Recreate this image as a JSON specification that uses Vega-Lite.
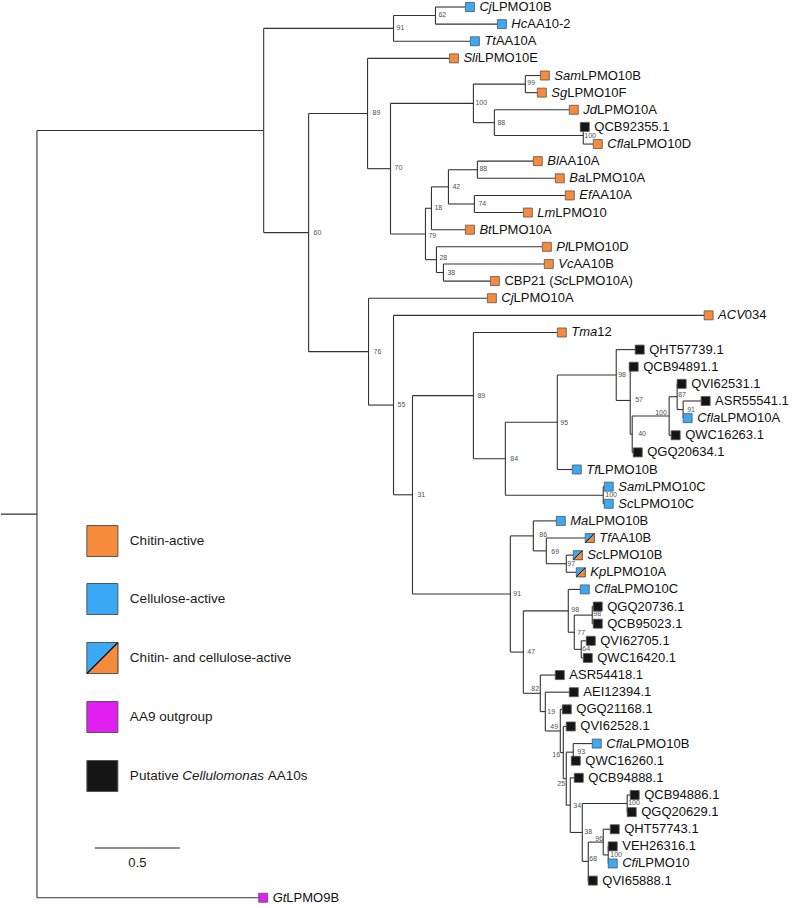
{
"$schema": "https://vega.github.io/schema/vega-lite/v6.json",
"width": 794, "height": 908, "padding": 0,
"autosize": {"type": "fit", "contains": "padding"},
"config": {"view": {"stroke": null}},
"datasets": {
"nodes": [
{"id":"base","parent":null,"x":-0.2118,"y":29.605},
{"id":"ROOT","parent":"base","x":0,"y":29.605},
{"id":"N1","parent":"ROOT","x":1.3353,"y":7.209},
{"id":"A","parent":"N1","x":2.1,"y":1.25,"bs":"91","lx":2.1176,"ly":1.226},
{"id":"B","parent":"A","x":2.3471,"y":0.5,"bs":"62","lx":2.3647,"ly":0.467},
{"id":"N60","parent":"N1","x":1.6,"y":13.169,"bs":"60","lx":1.6294,"ly":13.193},
{"id":"N89","parent":"N60","x":1.9471,"y":6.219,"bs":"89","lx":1.9765,"ly":6.188},
{"id":"N70","parent":"N89","x":2.0824,"y":9.438,"bs":"70","lx":2.1059,"ly":9.399},
{"id":"N100a","parent":"N70","x":2.5706,"y":5.625,"bs":"100","lx":2.5824,"ly":5.604},
{"id":"N99","parent":"N100a","x":2.8765,"y":4.5,"bs":"99","lx":2.8882,"ly":4.437},
{"id":"N88","parent":"N100a","x":2.6941,"y":6.75,"bs":"88","lx":2.7118,"ly":6.772},
{"id":"N100b","parent":"N88","x":3.2176,"y":7.5,"bs":"100","lx":3.2235,"ly":7.531},
{"id":"N79","parent":"N70","x":2.2882,"y":13.25,"bs":"79","lx":2.3059,"ly":13.368},
{"id":"N18","parent":"N79","x":2.3235,"y":11.75,"bs":"18","lx":2.3412,"ly":11.734},
{"id":"N42","parent":"N18","x":2.4235,"y":10.5,"bs":"42","lx":2.4471,"ly":10.508},
{"id":"N88b","parent":"N42","x":2.5941,"y":9.5,"bs":"88","lx":2.6059,"ly":9.457},
{"id":"N74","parent":"N42","x":2.5765,"y":11.5,"bs":"74","lx":2.6,"ly":11.5},
{"id":"N28","parent":"N79","x":2.3529,"y":14.75,"bs":"28","lx":2.3706,"ly":14.653},
{"id":"N38a","parent":"N28","x":2.3941,"y":15.5,"bs":"38","lx":2.4176,"ly":15.528},
{"id":"N76","parent":"N60","x":1.9529,"y":20.119,"bs":"76","lx":1.9824,"ly":20.14},
{"id":"N55","parent":"N76","x":2.1,"y":23.238,"bs":"55","lx":2.1235,"ly":23.234},
{"id":"N31","parent":"N55","x":2.2118,"y":28.476,"bs":"31","lx":2.2412,"ly":28.488},
{"id":"N89b","parent":"N31","x":2.5706,"y":22.686,"bs":"89","lx":2.5941,"ly":22.709},
{"id":"N84","parent":"N89b","x":2.7588,"y":26.371,"bs":"84","lx":2.7882,"ly":26.386},
{"id":"N95","parent":"N84","x":3.0647,"y":24.242,"bs":"95","lx":3.0824,"ly":24.285},
{"id":"N98","parent":"N95","x":3.4118,"y":21.484,"bs":"98","lx":3.4235,"ly":21.483},
{"id":"N57","parent":"N98","x":3.4941,"y":22.969,"bs":"57","lx":3.5235,"ly":22.942},
{"id":"N40","parent":"N57","x":3.5059,"y":24.938,"bs":"40","lx":3.5412,"ly":24.927},
{"id":"N100d","parent":"N40","x":3.7235,"y":23.875,"bs":"100","lx":3.6412,"ly":23.701},
{"id":"N87","parent":"N100d","x":3.7706,"y":22.75,"bs":"87","lx":3.7765,"ly":22.65},
{"id":"N91b","parent":"N87","x":3.8059,"y":23.5,"bs":"91","lx":3.8294,"ly":23.526},
{"id":"N100c","parent":"N84","x":3.3353,"y":28.5,"bs":"100","lx":3.3471,"ly":28.488},
{"id":"N91","parent":"N31","x":2.7882,"y":34.266,"bs":"91","lx":2.8059,"ly":34.268},
{"id":"N86","parent":"N91","x":2.9235,"y":30.875,"bs":"86","lx":2.9588,"ly":30.823},
{"id":"N69","parent":"N86","x":3.0,"y":31.75,"bs":"69","lx":3.0294,"ly":31.816},
{"id":"N97","parent":"N69","x":3.1176,"y":32.5,"bs":"97","lx":3.1235,"ly":32.516},
{"id":"N47","parent":"N91","x":2.8647,"y":37.658,"bs":"47","lx":2.8882,"ly":37.653},
{"id":"N98b","parent":"N47","x":3.1294,"y":35.25,"bs":"98","lx":3.1471,"ly":35.201},
{"id":"N77","parent":"N98b","x":3.1647,"y":36.5,"bs":"77","lx":3.1824,"ly":36.544},
{"id":"N98c","parent":"N77","x":3.2706,"y":35.5,"bs":"98","lx":3.2765,"ly":35.435},
{"id":"N64","parent":"N77","x":3.2059,"y":37.5,"bs":"64","lx":3.2118,"ly":37.478},
{"id":"N82","parent":"N47","x":2.9647,"y":40.065,"bs":"82","lx":2.9118,"ly":39.814},
{"id":"N19","parent":"N82","x":2.9941,"y":41.131,"bs":"19","lx":3.0059,"ly":41.156},
{"id":"N49","parent":"N19","x":3.0824,"y":42.262,"bs":"49","lx":3.0235,"ly":42.032},
{"id":"N16","parent":"N49","x":3.1,"y":43.523,"bs":"16","lx":3.0353,"ly":43.666},
{"id":"N25","parent":"N16","x":3.1176,"y":45.047,"bs":"25","lx":3.0647,"ly":45.359},
{"id":"N93","parent":"N25","x":3.1588,"y":43.5,"bs":"93","lx":3.1824,"ly":43.491},
{"id":"N34","parent":"N25","x":3.1412,"y":46.594,"bs":"34","lx":3.1588,"ly":46.643},
{"id":"N38b","parent":"N34","x":3.2118,"y":48.188,"bs":"38","lx":3.2235,"ly":48.161},
{"id":"N100e","parent":"N38b","x":3.4765,"y":46.5,"bs":"100","lx":3.4824,"ly":46.468},
{"id":"N68","parent":"N38b","x":3.2471,"y":49.875,"bs":"68","lx":3.2529,"ly":49.737},
{"id":"N96","parent":"N68","x":3.3353,"y":48.75,"bs":"96","lx":3.2882,"ly":48.57},
{"id":"N100f","parent":"N96","x":3.3647,"y":49.5,"bs":"100","lx":3.3765,"ly":49.5},
{"id":"L0","parent":"B","x":2.5235,"y":0,"cat":"cellulose","pre":"","it":"Cj","post":"LPMO10B"},
{"id":"L1","parent":"B","x":2.7118,"y":1,"cat":"cellulose","pre":"","it":"Hc","post":"AA10-2"},
{"id":"L2","parent":"A","x":2.5529,"y":2,"cat":"cellulose","pre":"","it":"Tt","post":"AA10A"},
{"id":"L3","parent":"N89","x":2.4294,"y":3,"cat":"chitin","pre":"","it":"Sli","post":"LPMO10E"},
{"id":"L4","parent":"N99","x":2.9647,"y":4,"cat":"chitin","pre":"","it":"Sam","post":"LPMO10B"},
{"id":"L5","parent":"N99","x":2.9471,"y":5,"cat":"chitin","pre":"","it":"Sg","post":"LPMO10F"},
{"id":"L6","parent":"N88","x":3.1353,"y":6,"cat":"chitin","pre":"","it":"Jd","post":"LPMO10A"},
{"id":"L7","parent":"N100b","x":3.2,"y":7,"cat":"putative","pre":"QCB92355.1","it":"","post":""},
{"id":"L8","parent":"N100b","x":3.2765,"y":8,"cat":"chitin","pre":"","it":"Cfla","post":"LPMO10D"},
{"id":"L9","parent":"N88b","x":2.9235,"y":9,"cat":"chitin","pre":"","it":"Bl","post":"AA10A"},
{"id":"L10","parent":"N88b","x":3.0529,"y":10,"cat":"chitin","pre":"","it":"Ba","post":"LPMO10A"},
{"id":"L11","parent":"N74","x":3.1118,"y":11,"cat":"chitin","pre":"","it":"Ef","post":"AA10A"},
{"id":"L12","parent":"N74","x":2.8647,"y":12,"cat":"chitin","pre":"","it":"Lm","post":"LPMO10"},
{"id":"L13","parent":"N18","x":2.5235,"y":13,"cat":"chitin","pre":"","it":"Bt","post":"LPMO10A"},
{"id":"L14","parent":"N28","x":2.9765,"y":14,"cat":"chitin","pre":"","it":"Pl","post":"LPMO10D"},
{"id":"L15","parent":"N38a","x":2.9882,"y":15,"cat":"chitin","pre":"","it":"Vc","post":"AA10B"},
{"id":"L16","parent":"N38a","x":2.6706,"y":16,"cat":"chitin","pre":"CBP21 (","it":"Sc","post":"LPMO10A)"},
{"id":"L17","parent":"N76","x":2.6529,"y":17,"cat":"chitin","pre":"","it":"Cj","post":"LPMO10A"},
{"id":"L18","parent":"N55","x":3.9294,"y":18,"cat":"chitin","pre":"","it":"ACV","post":"034"},
{"id":"L19","parent":"N89b","x":3.0647,"y":19,"cat":"chitin","pre":"","it":"Tma","post":"12"},
{"id":"L20","parent":"N98","x":3.5235,"y":20,"cat":"putative","pre":"QHT57739.1","it":"","post":""},
{"id":"L21","parent":"N57","x":3.4882,"y":21,"cat":"putative","pre":"QCB94891.1","it":"","post":""},
{"id":"L22","parent":"N87","x":3.7706,"y":22,"cat":"putative","pre":"QVI62531.1","it":"","post":""},
{"id":"L23","parent":"N91b","x":3.9118,"y":23,"cat":"putative","pre":"ASR55541.1","it":"","post":""},
{"id":"L24","parent":"N91b","x":3.8059,"y":24,"cat":"cellulose","pre":"","it":"Cfla","post":"LPMO10A"},
{"id":"L25","parent":"N100d","x":3.7353,"y":25,"cat":"putative","pre":"QWC16263.1","it":"","post":""},
{"id":"L26","parent":"N40","x":3.5118,"y":26,"cat":"putative","pre":"QGQ20634.1","it":"","post":""},
{"id":"L27","parent":"N95","x":3.1529,"y":27,"cat":"cellulose","pre":"","it":"Tf","post":"LPMO10B"},
{"id":"L28","parent":"N100c","x":3.3412,"y":28,"cat":"cellulose","pre":"","it":"Sam","post":"LPMO10C"},
{"id":"L29","parent":"N100c","x":3.3412,"y":29,"cat":"cellulose","pre":"","it":"Sc","post":"LPMO10C"},
{"id":"L30","parent":"N86","x":3.0588,"y":30,"cat":"cellulose","pre":"","it":"Ma","post":"LPMO10B"},
{"id":"L31","parent":"N69","x":3.2294,"y":31,"cat":"both","pre":"","it":"Tf","post":"AA10B"},
{"id":"L32","parent":"N97","x":3.1588,"y":32,"cat":"both","pre":"","it":"Sc","post":"LPMO10B"},
{"id":"L33","parent":"N97","x":3.1765,"y":33,"cat":"both","pre":"","it":"Kp","post":"LPMO10A"},
{"id":"L34","parent":"N98b","x":3.2,"y":34,"cat":"cellulose","pre":"","it":"Cfla","post":"LPMO10C"},
{"id":"L35","parent":"N98c","x":3.2765,"y":35,"cat":"putative","pre":"QGQ20736.1","it":"","post":""},
{"id":"L36","parent":"N98c","x":3.2765,"y":36,"cat":"putative","pre":"QCB95023.1","it":"","post":""},
{"id":"L37","parent":"N64","x":3.2353,"y":37,"cat":"putative","pre":"QVI62705.1","it":"","post":""},
{"id":"L38","parent":"N64","x":3.2176,"y":38,"cat":"putative","pre":"QWC16420.1","it":"","post":""},
{"id":"L39","parent":"N82","x":3.0529,"y":39,"cat":"putative","pre":"ASR54418.1","it":"","post":""},
{"id":"L40","parent":"N19","x":3.1353,"y":40,"cat":"putative","pre":"AEI12394.1","it":"","post":""},
{"id":"L41","parent":"N49","x":3.0941,"y":41,"cat":"putative","pre":"QGQ21168.1","it":"","post":""},
{"id":"L42","parent":"N16","x":3.1176,"y":42,"cat":"putative","pre":"QVI62528.1","it":"","post":""},
{"id":"L43","parent":"N93","x":3.2706,"y":43,"cat":"cellulose","pre":"","it":"Cfla","post":"LPMO10B"},
{"id":"L44","parent":"N93","x":3.1471,"y":44,"cat":"putative","pre":"QWC16260.1","it":"","post":""},
{"id":"L45","parent":"N34","x":3.1647,"y":45,"cat":"putative","pre":"QCB94888.1","it":"","post":""},
{"id":"L46","parent":"N100e","x":3.4941,"y":46,"cat":"putative","pre":"QCB94886.1","it":"","post":""},
{"id":"L47","parent":"N100e","x":3.4765,"y":47,"cat":"putative","pre":"QGQ20629.1","it":"","post":""},
{"id":"L48","parent":"N96","x":3.3765,"y":48,"cat":"putative","pre":"QHT57743.1","it":"","post":""},
{"id":"L49","parent":"N100f","x":3.3647,"y":49,"cat":"putative","pre":"VEH26316.1","it":"","post":""},
{"id":"L50","parent":"N100f","x":3.3647,"y":50,"cat":"cellulose","pre":"","it":"Cfi","post":"LPMO10"},
{"id":"L51","parent":"N68","x":3.2471,"y":51,"cat":"putative","pre":"QVI65888.1","it":"","post":""},
{"id":"L52","parent":"ROOT","x":1.3059,"y":52,"cat":"aa9","pre":"","it":"Gt","post":"LPMO9B"}
],
"legend": [
{"cat":"chitin","pre":"Chitin-active","it":"","post":"","x":0.3853,"y":31.174},
{"cat":"cellulose","pre":"Cellulose-active","it":"","post":"","x":0.3853,"y":34.56},
{"cat":"both","pre":"Chitin- and cellulose-active","it":"","post":"","x":0.3853,"y":38.004},
{"cat":"aa9","pre":"AA9 outgroup","it":"","post":"","x":0.3853,"y":41.449},
{"cat":"putative","pre":"Putative ","it":"Cellulomonas ","post":"AA10s","x":0.3853,"y":44.893}
],
"bar": [{"x1":0.3412,"x2":0.8412,"xm":0.5912,"y":49.095,"label":"0.5"}]
},
"layer": [
{"data":{"name":"nodes"},
 "transform":[{"filter":"datum.parent != null"},
  {"lookup":"parent","from":{"data":{"name":"nodes"},"key":"id","fields":["x"]},"as":["px"]}],
 "mark":{"type":"rule","stroke":"#333333","strokeWidth":1.1},
 "encoding":{
  "x":{"field":"px","type":"quantitative","scale":{"domain":[-0.211765,4.458824],"nice":false,"zero":false},"axis":null},
  "x2":{"field":"x"},
  "y":{"field":"y","type":"quantitative","scale":{"domain":[-0.40864,52.5978],"nice":false,"zero":false,"reverse":true},"axis":null}}},
{"data":{"name":"nodes"},
 "transform":[{"filter":"datum.parent != null"},
  {"aggregate":[{"op":"min","field":"y","as":"y1"},{"op":"max","field":"y","as":"y2"}],"groupby":["parent"]},
  {"lookup":"parent","from":{"data":{"name":"nodes"},"key":"id","fields":["x"]},"as":["nx"]}],
 "mark":{"type":"rule","stroke":"#333333","strokeWidth":1.1},
 "encoding":{
  "x":{"field":"nx","type":"quantitative","scale":{"domain":[-0.211765,4.458824],"nice":false,"zero":false},"axis":null},
  "y":{"field":"y1","type":"quantitative","scale":{"domain":[-0.40864,52.5978],"nice":false,"zero":false,"reverse":true},"axis":null},
  "y2":{"field":"y2"}}},
{"data":{"name":"nodes"},
 "transform":[{"filter":"datum.cat != null"}],
 "mark":{"type":"point","shape":"square","size":81,"filled":true,"opacity":1,"stroke":"#555555","strokeWidth":0.8,"xOffset":4.5},
 "encoding":{
  "x":{"field":"x","type":"quantitative","scale":{"domain":[-0.211765,4.458824],"nice":false,"zero":false},"axis":null},
  "y":{"field":"y","type":"quantitative","scale":{"domain":[-0.40864,52.5978],"nice":false,"zero":false,"reverse":true},"axis":null},
  "fill":{"field":"cat","type":"nominal","legend":null,"scale":{"domain":["chitin","cellulose","both","aa9","putative"],"range":["#F68B3C","#3AAAF7","#3AAAF7","#DF20F0","#151515"]}}}},
{"data":{"name":"nodes"},
 "transform":[{"filter":"datum.cat == 'both'"}],
 "mark":{"type":"point","shape":"M1,-1L1,1L-1,1Z","size":81,"filled":true,"opacity":1,"color":"#F68B3C","stroke":"#555555","strokeWidth":0.8,"xOffset":4.5},
 "encoding":{
  "x":{"field":"x","type":"quantitative","scale":{"domain":[-0.211765,4.458824],"nice":false,"zero":false},"axis":null},
  "y":{"field":"y","type":"quantitative","scale":{"domain":[-0.40864,52.5978],"nice":false,"zero":false,"reverse":true},"axis":null}}},
{"data":{"name":"nodes"},
 "transform":[{"filter":"datum.cat == 'both'"}],
 "mark":{"type":"point","shape":"M-1,1L1,-1","size":81,"filled":false,"opacity":1,"color":"#111111","strokeWidth":1,"xOffset":4.5},
 "encoding":{
  "x":{"field":"x","type":"quantitative","scale":{"domain":[-0.211765,4.458824],"nice":false,"zero":false},"axis":null},
  "y":{"field":"y","type":"quantitative","scale":{"domain":[-0.40864,52.5978],"nice":false,"zero":false,"reverse":true},"axis":null}}},
{"data":{"name":"nodes"},
 "transform":[{"filter":"datum.cat != null"},
  {"calculate":"(222*length(replace(datum.pre,regexp('[^ijl]','g'),''))+278*length(replace(datum.pre,regexp('[^ ftI.]','g'),''))+333*length(replace(datum.pre,regexp('[^()r-]','g'),''))+500*length(replace(datum.pre,regexp('[^cksvxyzJ]','g'),''))+556*length(replace(datum.pre,regexp('[^0-9abdeghnopquL]','g'),''))+611*length(replace(datum.pre,regexp('[^FTZ]','g'),''))+667*length(replace(datum.pre,regexp('[^ABEKPSVXY]','g'),''))+722*length(replace(datum.pre,regexp('[^CDHNRUw]','g'),''))+778*length(replace(datum.pre,regexp('[^GOQ]','g'),''))+833*length(replace(datum.pre,regexp('[^Mm]','g'),''))+944*length(replace(datum.pre,regexp('[^W]','g'),'')))/1000","as":"pw"},
  {"calculate":"(222*length(replace(datum.it,regexp('[^ijl]','g'),''))+278*length(replace(datum.it,regexp('[^ ftI.]','g'),''))+333*length(replace(datum.it,regexp('[^()r-]','g'),''))+500*length(replace(datum.it,regexp('[^cksvxyzJ]','g'),''))+556*length(replace(datum.it,regexp('[^0-9abdeghnopquL]','g'),''))+611*length(replace(datum.it,regexp('[^FTZ]','g'),''))+667*length(replace(datum.it,regexp('[^ABEKPSVXY]','g'),''))+722*length(replace(datum.it,regexp('[^CDHNRUw]','g'),''))+778*length(replace(datum.it,regexp('[^GOQ]','g'),''))+833*length(replace(datum.it,regexp('[^Mm]','g'),''))+944*length(replace(datum.it,regexp('[^W]','g'),'')))/1000","as":"iw"},
  {"calculate":"datum.x + (14 + 13*datum.pw)/170","as":"xit"},
  {"calculate":"datum.x + (14 + 13*(datum.pw+datum.iw))/170","as":"xpost"}],
 "encoding":{
  "y":{"field":"y","type":"quantitative","scale":{"domain":[-0.40864,52.5978],"nice":false,"zero":false,"reverse":true},"axis":null}},
 "layer":[
  {"mark":{"type":"text","align":"left","baseline":"middle","dx":14,"font":"Liberation Sans","fontSize":13,"color":"#111111"},
   "encoding":{"x":{"field":"x","type":"quantitative","scale":{"domain":[-0.211765,4.458824],"nice":false,"zero":false},"axis":null},"text":{"field":"pre"}}},
  {"mark":{"type":"text","align":"left","baseline":"middle","font":"Liberation Sans","fontStyle":"italic","fontSize":13,"color":"#111111"},
   "encoding":{"x":{"field":"xit","type":"quantitative","scale":{"domain":[-0.211765,4.458824],"nice":false,"zero":false},"axis":null},"text":{"field":"it"}}},
  {"mark":{"type":"text","align":"left","baseline":"middle","font":"Liberation Sans","fontSize":13,"color":"#111111"},
   "encoding":{"x":{"field":"xpost","type":"quantitative","scale":{"domain":[-0.211765,4.458824],"nice":false,"zero":false},"axis":null},"text":{"field":"post"}}}
 ]},
{"data":{"name":"nodes"},
 "transform":[{"filter":"datum.bs != null"}],
 "mark":{"type":"text","align":"left","baseline":"middle","font":"Liberation Sans","fontSize":7,"color":"#505050"},
 "encoding":{
  "x":{"field":"lx","type":"quantitative","scale":{"domain":[-0.211765,4.458824],"nice":false,"zero":false},"axis":null},
  "y":{"field":"ly","type":"quantitative","scale":{"domain":[-0.40864,52.5978],"nice":false,"zero":false,"reverse":true},"axis":null},
  "text":{"field":"bs"}}},
{"data":{"name":"legend"},
 "mark":{"type":"point","shape":"square","size":961,"filled":true,"opacity":1,"stroke":"#555555","strokeWidth":1},
 "encoding":{
  "x":{"field":"x","type":"quantitative","scale":{"domain":[-0.211765,4.458824],"nice":false,"zero":false},"axis":null},
  "y":{"field":"y","type":"quantitative","scale":{"domain":[-0.40864,52.5978],"nice":false,"zero":false,"reverse":true},"axis":null},
  "fill":{"field":"cat","type":"nominal","legend":null,"scale":{"domain":["chitin","cellulose","both","aa9","putative"],"range":["#F68B3C","#3AAAF7","#3AAAF7","#DF20F0","#151515"]}}}},
{"data":{"name":"legend"},
 "transform":[{"filter":"datum.cat == 'both'"}],
 "mark":{"type":"point","shape":"M1,-1L1,1L-1,1Z","size":961,"filled":true,"opacity":1,"color":"#F68B3C","stroke":"#555555","strokeWidth":1},
 "encoding":{
  "x":{"field":"x","type":"quantitative","scale":{"domain":[-0.211765,4.458824],"nice":false,"zero":false},"axis":null},
  "y":{"field":"y","type":"quantitative","scale":{"domain":[-0.40864,52.5978],"nice":false,"zero":false,"reverse":true},"axis":null}}},
{"data":{"name":"legend"},
 "transform":[{"filter":"datum.cat == 'both'"}],
 "mark":{"type":"point","shape":"M-1,1L1,-1","size":961,"filled":false,"opacity":1,"color":"#111111","strokeWidth":1.2},
 "encoding":{
  "x":{"field":"x","type":"quantitative","scale":{"domain":[-0.211765,4.458824],"nice":false,"zero":false},"axis":null},
  "y":{"field":"y","type":"quantitative","scale":{"domain":[-0.40864,52.5978],"nice":false,"zero":false,"reverse":true},"axis":null}}},
{"data":{"name":"legend"},
 "transform":[
  {"calculate":"(222*length(replace(datum.pre,regexp('[^ijl]','g'),''))+278*length(replace(datum.pre,regexp('[^ ftI.]','g'),''))+333*length(replace(datum.pre,regexp('[^()r-]','g'),''))+500*length(replace(datum.pre,regexp('[^cksvxyzJ]','g'),''))+556*length(replace(datum.pre,regexp('[^0-9abdeghnopquL]','g'),''))+611*length(replace(datum.pre,regexp('[^FTZ]','g'),''))+667*length(replace(datum.pre,regexp('[^ABEKPSVXY]','g'),''))+722*length(replace(datum.pre,regexp('[^CDHNRUw]','g'),''))+778*length(replace(datum.pre,regexp('[^GOQ]','g'),''))+833*length(replace(datum.pre,regexp('[^Mm]','g'),''))+944*length(replace(datum.pre,regexp('[^W]','g'),'')))/1000","as":"pw"},
  {"calculate":"(222*length(replace(datum.it,regexp('[^ijl]','g'),''))+278*length(replace(datum.it,regexp('[^ ftI.]','g'),''))+333*length(replace(datum.it,regexp('[^()r-]','g'),''))+500*length(replace(datum.it,regexp('[^cksvxyzJ]','g'),''))+556*length(replace(datum.it,regexp('[^0-9abdeghnopquL]','g'),''))+611*length(replace(datum.it,regexp('[^FTZ]','g'),''))+667*length(replace(datum.it,regexp('[^ABEKPSVXY]','g'),''))+722*length(replace(datum.it,regexp('[^CDHNRUw]','g'),''))+778*length(replace(datum.it,regexp('[^GOQ]','g'),''))+833*length(replace(datum.it,regexp('[^Mm]','g'),''))+944*length(replace(datum.it,regexp('[^W]','g'),'')))/1000","as":"iw"},
  {"calculate":"datum.x + (27.5 + 13.5*datum.pw)/170","as":"xit"},
  {"calculate":"datum.x + (27.5 + 13.5*(datum.pw+datum.iw))/170","as":"xpost"}],
 "encoding":{
  "y":{"field":"y","type":"quantitative","scale":{"domain":[-0.40864,52.5978],"nice":false,"zero":false,"reverse":true},"axis":null}},
 "layer":[
  {"mark":{"type":"text","align":"left","baseline":"middle","dx":27.5,"font":"Liberation Sans","fontSize":13.5,"color":"#1a1a1a"},
   "encoding":{"x":{"field":"x","type":"quantitative","scale":{"domain":[-0.211765,4.458824],"nice":false,"zero":false},"axis":null},"text":{"field":"pre"}}},
  {"mark":{"type":"text","align":"left","baseline":"middle","font":"Liberation Sans","fontStyle":"italic","fontSize":13.5,"color":"#1a1a1a"},
   "encoding":{"x":{"field":"xit","type":"quantitative","scale":{"domain":[-0.211765,4.458824],"nice":false,"zero":false},"axis":null},"text":{"field":"it"}}},
  {"mark":{"type":"text","align":"left","baseline":"middle","font":"Liberation Sans","fontSize":13.5,"color":"#1a1a1a"},
   "encoding":{"x":{"field":"xpost","type":"quantitative","scale":{"domain":[-0.211765,4.458824],"nice":false,"zero":false},"axis":null},"text":{"field":"post"}}}
 ]},
{"data":{"name":"bar"},
 "mark":{"type":"rule","stroke":"#222222","strokeWidth":1.1},
 "encoding":{
  "x":{"field":"x1","type":"quantitative","scale":{"domain":[-0.211765,4.458824],"nice":false,"zero":false},"axis":null},
  "x2":{"field":"x2"},
  "y":{"field":"y","type":"quantitative","scale":{"domain":[-0.40864,52.5978],"nice":false,"zero":false,"reverse":true},"axis":null}}},
{"data":{"name":"bar"},
 "mark":{"type":"text","align":"center","baseline":"middle","dy":15,"font":"Liberation Sans","fontSize":13,"color":"#1a1a1a"},
 "encoding":{
  "x":{"field":"xm","type":"quantitative","scale":{"domain":[-0.211765,4.458824],"nice":false,"zero":false},"axis":null},
  "y":{"field":"y","type":"quantitative","scale":{"domain":[-0.40864,52.5978],"nice":false,"zero":false,"reverse":true},"axis":null},
  "text":{"field":"label"}}}
]
}
